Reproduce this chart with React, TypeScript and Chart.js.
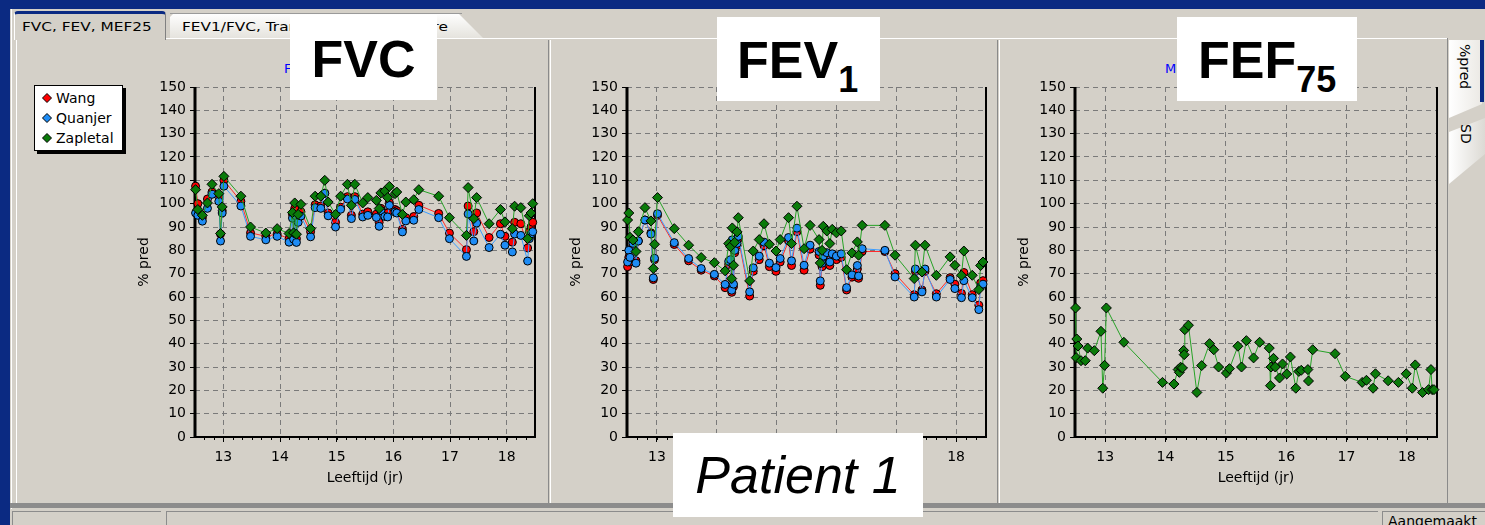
import React, { useEffect, useRef } from 'react';
import { Chart, registerables } from 'chart.js';

Chart.register(...registerables);

const FONT = '"DejaVu Sans", sans-serif';
const BG = '#d4d0c8';
const NAVY = '#0b2a82';

// ---------- data ----------
const xTicks = [13, 14, 15, 16, 17, 18];
const xMin = 12.5;
const xMax = 18.5;
const yMin = 0;
const yMax = 150;
const seriesNames = ['Wang', 'Quanjer', 'Zapletal'];

const fvcAges = [12.51, 12.55, 12.63, 12.72, 12.8, 12.92, 12.95, 12.98, 13.01, 13.31, 13.48, 13.75, 13.95, 14.16, 14.22, 14.24, 14.26, 14.29, 14.32, 14.37, 14.54, 14.62, 14.72, 14.79, 14.85, 14.98, 15.07, 15.19, 15.26, 15.32, 15.46, 15.55, 15.7, 15.75, 15.78, 15.85, 15.9, 15.93, 16.03, 16.06, 16.16, 16.22, 16.36, 16.45, 16.8, 16.99, 17.29, 17.32, 17.42, 17.47, 17.69, 17.89, 17.97, 18.1, 18.14, 18.25, 18.37, 18.4, 18.43, 18.46];
const fvcWang = [107.5, 100, 94, 102, 105, 103, 87, 97, 110, 101, 87.5, 86, 87, 85, 95.5, 86.5, 98, 85, 93.5, 96.5, 88, 99.5, 99, 104.5, 96, 92, 98.5, 103, 95, 103, 95.5, 96.5, 95.5, 92, 98, 96, 96, 100.5, 97.5, 97, 89, 94, 94.5, 99.3, 95.8, 87.4, 80.3, 99, 88, 96, 85.5, 91.4, 86, 83.5, 92, 91.4, 81, 88, 90, 92];
const fvcQuanjer = [96, 95, 92.5, 98, 104, 101, 84, 96, 107.5, 99, 86, 84.5, 86, 83.5, 93.8, 84.8, 95, 83.4, 92, 94.7, 85.8, 98.3, 98, 104.4, 94.8, 90, 97.6, 102, 93.6, 101.8, 94.3, 95, 94.1, 90.3, 97, 94.5, 94.3, 99.3, 96.4, 96, 87.9, 92.6, 92.9, 97.5, 94, 85, 77.4, 95.6, 84, 91.7, 81.2, 86.9, 82.2, 79.3, 87, 86.4, 75.4, 85, 87, 88];
const fvcZapletal = [106, 97.5, 95, 100.3, 108.3, 104.3, 87.2, 98.6, 111.7, 103.2, 90, 87.4, 89.3, 87.2, 96.2, 87.5, 100.3, 86.9, 95.4, 99.7, 89.3, 103.2, 103.2, 110, 100.7, 95.4, 103.2, 108.3, 99.3, 108.3, 100.3, 102.6, 101.4, 97.9, 104.6, 105.4, 102.6, 107.4, 104.3, 105, 95.4, 100.7, 101.7, 106, 103.2, 94, 86.4, 106.9, 93.6, 102.6, 91.4, 97.5, 92.2, 89.3, 98.9, 98.3, 85, 94.8, 96, 100];

const fev1Ages = [12.51, 12.53, 12.55, 12.6, 12.65, 12.69, 12.8, 12.9, 12.94, 12.96, 13.01, 13.29, 13.53, 13.74, 13.96, 14.14, 14.2, 14.23, 14.25, 14.26, 14.28, 14.3, 14.34, 14.36, 14.55, 14.61, 14.71, 14.79, 14.88, 14.99, 15.06, 15.2, 15.25, 15.34, 15.46, 15.56, 15.71, 15.73, 15.76, 15.78, 15.84, 15.89, 15.93, 16.0, 16.08, 16.17, 16.26, 16.35, 16.37, 16.43, 16.81, 16.98, 17.3, 17.32, 17.43, 17.48, 17.67, 17.9, 17.98, 18.09, 18.13, 18.27, 18.38, 18.41, 18.45];
const fev1Wang = [73, 77, 75, 82, 75.5, 84, 93, 87.5, 67.5, 76, 95, 82.5, 75.5, 71.5, 69, 64, 74, 75, 62, 83, 64.5, 79, 82, 85, 60.4, 71, 76, 82, 73, 71, 75, 84, 73.5, 88, 71.5, 80.5, 78, 65, 73, 75.5, 77, 73.5, 77, 76, 77, 63, 68.5, 72, 68, 79.5, 79.5, 70, 61, 71, 63, 71, 61.4, 68.3, 65.5, 61.5, 70.5, 61, 56.5, 66, 67];
const fev1Quanjer = [75, 80, 77, 83, 74.5, 84, 93, 87, 68.2, 76.6, 95.7, 83.3, 76.5, 72.2, 69.7, 65.4, 75.3, 76, 62.9, 84.5, 65.5, 80, 83, 86, 62.2, 72.5, 77.5, 83.5, 74.5, 72.6, 76.5, 85.5, 75.5, 89.5, 73.6, 82.2, 79.5, 66.9, 74.5, 77.5, 79, 75, 78.5, 77.5, 78.5, 64, 69.5, 73.5, 69, 80.7, 80, 68.6, 60, 72, 62.2, 72, 60, 67.5, 63.6, 59.7, 67, 59.7, 54.6, 64.5, 65.5];
const fev1Zapletal = [93, 96, 85.6, 84.4, 79.5, 88, 98.3, 92.6, 72.2, 82.6, 102.6, 89.3, 82.2, 76.9, 74.7, 71.2, 82.9, 81.6, 67.9, 89.6, 73.6, 83.4, 87.9, 94, 66.9, 79.7, 84.6, 91.4, 82.6, 79.7, 84.6, 94, 82.9, 98.9, 80.7, 90.7, 84.6, 74.6, 80, 90.3, 88.3, 82.9, 89, 87.5, 88.3, 71.7, 78.9, 83.6, 77.9, 90.7, 90.7, 77.9, 67.9, 82.2, 70.7, 82.2, 69.3, 77.2, 73.6, 69.3, 79.7, 69.3, 63.2, 73.5, 75];

const fef75Ages = [12.51, 12.52, 12.53, 12.55, 12.6, 12.67, 12.71, 12.82, 12.93, 12.96, 12.99, 13.02, 13.31, 13.95, 14.14, 14.21, 14.23, 14.25, 14.28, 14.3, 14.31, 14.32, 14.38, 14.52, 14.6, 14.73, 14.8, 14.88, 15.01, 15.06, 15.2, 15.26, 15.34, 15.46, 15.56, 15.72, 15.74, 15.75, 15.79, 15.82, 15.89, 15.94, 16.01, 16.07, 16.16, 16.21, 16.25, 16.36, 16.37, 16.44, 16.81, 16.98, 17.26, 17.33, 17.44, 17.48, 17.69, 17.86, 17.99, 18.09, 18.14, 18.26, 18.36, 18.4, 18.42, 18.45];
const fef75Zapletal = [55.3, 34, 42, 39, 32.7, 32.7, 38.1, 37, 45.3, 20.9, 30.7, 55.3, 40.6, 23.4, 22.7, 28.9, 27.7, 29.9, 29.6, 37.1, 35.3, 46, 47.9, 19.1, 30.6, 40, 37.4, 30, 27.4, 29.3, 38.9, 30, 41.3, 33.9, 40.6, 38.1, 22, 30, 33.7, 30, 25.3, 31.3, 27, 34.3, 20.9, 28.1, 28.6, 28.9, 24, 37.4, 35.7, 26, 23.4, 24.3, 20.9, 27.1, 24.1, 23.4, 27.1, 20.9, 30.9, 19.1, 20.3, 28.9, 20.3, 20.3];

// ---------- styles ----------
const STYLE: Record<string, { fill: string; line: string; shape: string; r: number; order: number }> = {
  Wang: { fill: '#ff0000', line: '#ff2a2a', shape: 'circle', r: 4, order: 3 },
  Quanjer: { fill: '#1e8cf5', line: '#3a9cff', shape: 'circle', r: 4, order: 2 },
  Zapletal: { fill: '#0a7a0a', line: '#26a226', shape: 'rectRot', r: 5, order: 1 },
};

function makeDataset(name: string, ages: number[], vals: number[]) {
  const s = STYLE[name];
  return {
    label: name,
    data: ages.map((a, i) => ({ x: a, y: vals[i] })),
    borderColor: s.line,
    borderWidth: 1,
    backgroundColor: s.fill,
    pointBackgroundColor: s.fill,
    pointBorderColor: '#000',
    pointBorderWidth: 1,
    pointRadius: s.r,
    pointStyle: s.shape,
    order: s.order,
    tension: 0,
    fill: false,
    clip: 8,
  };
}

const framePlugin = {
  id: 'frame',
  beforeDatasetsDraw(chart: any) {
    const { ctx, chartArea: a, scales } = chart;
    ctx.save();
    ctx.setLineDash([]);
    ctx.strokeStyle = '#000';
    ctx.lineWidth = 2;
    ctx.beginPath();
    ctx.moveTo(a.right, a.top);
    ctx.lineTo(a.right, a.bottom);
    ctx.lineTo(a.left, a.bottom);
    ctx.stroke();
    ctx.lineWidth = 3;
    ctx.beginPath();
    ctx.moveTo(a.left, a.top);
    ctx.lineTo(a.left, a.bottom + 1);
    ctx.stroke();
    ctx.lineWidth = 1;
    const sx = scales.x;
    ctx.beginPath();
    for (let k = 1; k < 36; k++) {
      const px = Math.round(sx.getPixelForValue(xMin + k / 6)) + 0.5;
      ctx.moveTo(px, a.bottom);
      ctx.lineTo(px, a.bottom + 3);
    }
    ctx.stroke();
    ctx.fillStyle = '#000';
    ctx.font = '14px ' + FONT;
    ctx.textAlign = 'center';
    ctx.textBaseline = 'middle';
    ctx.fillText('Leeftijd (jr)', (a.left + a.right) / 2, a.bottom + 41);
    ctx.translate(a.left - 51, (a.top + a.bottom) / 2);
    ctx.rotate(-Math.PI / 2);
    ctx.fillText('% pred', 0, 0);
    ctx.restore();
  },
};

function LineChart(props: { left: number; width: number; padRight: number; ages: number[]; series: { name: string; values: number[] }[] }) {
  const ref = useRef<HTMLCanvasElement>(null);
  useEffect(() => {
    const chart = new Chart(ref.current as HTMLCanvasElement, {
      type: 'line',
      data: { datasets: props.series.map((s) => makeDataset(s.name, props.ages, s.values)) as any },
      options: {
        animation: false,
        responsive: false,
        maintainAspectRatio: false,
        layout: { padding: { top: 17, right: props.padRight, left: 0, bottom: 0 } },
        plugins: { legend: { display: false }, tooltip: { enabled: false }, title: { display: false } },
        scales: {
          x: {
            type: 'linear',
            min: xMin,
            max: xMax,
            afterBuildTicks: (s: any) => {
              s.ticks = xTicks.map((v) => ({ value: v }));
            },
            afterFit: (s: any) => {
              s.height = 53;
            },
            ticks: { font: { family: FONT, size: 14 }, color: '#000', padding: 7, maxRotation: 0, autoSkip: false },
            grid: { color: '#7a7a7a', lineWidth: 1, tickLength: 5, tickColor: '#000', tickBorderDash: [] },
            border: { display: false, dash: [5, 4] },
          },
          y: {
            type: 'linear',
            min: yMin,
            max: yMax,
            afterFit: (s: any) => {
              s.width = 65;
            },
            ticks: { stepSize: 10, font: { family: FONT, size: 14 }, color: '#000', padding: 4 },
            grid: { color: '#7a7a7a', lineWidth: 1, tickLength: 5, tickColor: '#000', tickBorderDash: [] },
            border: { display: false, dash: [5, 4] },
          },
        },
      },
      plugins: [framePlugin],
    });
    return () => chart.destroy();
  }, []);
  return (
    <canvas
      ref={ref}
      width={props.width}
      height={420}
      style={{ position: 'absolute', left: props.left, top: 70, width: props.width, height: 420 }}
    />
  );
}

function Marker({ name }: { name: string }) {
  const s = STYLE[name];
  return (
    <svg width={10} height={10} style={{ position: 'absolute', left: 7, top: 4 }}>
      <polygon points="5,0.5 9.5,5 5,9.5 0.5,5" fill={s.fill} stroke="#000" strokeWidth={1} />
    </svg>
  );
}

function abs(left: number, top: number, width: number, height: number, extra: any = {}) {
  return { position: 'absolute' as const, left, top, width, height, ...extra };
}

const tabText = { display: 'inline-block', fontSize: 13, transform: 'scaleX(1.18)', transformOrigin: 'left top', whiteSpace: 'nowrap' as const, color: '#000', lineHeight: '20px' };
const bigText = { position: 'absolute' as const, fontFamily: '"Liberation Sans", Arial, sans-serif', fontWeight: 'bold' as const, fontSize: 52, lineHeight: '60px', color: '#000', whiteSpace: 'nowrap' as const };

export default function App() {
  return (
    <div style={{ position: 'fixed', left: 0, top: 0, width: 1485, height: 525, background: BG, overflow: 'hidden', fontFamily: FONT }}>
      {/* window frame */}
      <div style={abs(0, 0, 1485, 9, { background: NAVY })} />
      <div style={abs(0, 0, 10, 525, { background: NAVY })} />
      <div style={abs(11, 9, 1, 500, { background: '#ffffff' })} />

      {/* tabs */}
      <div
        style={abs(170, 13, 314, 26, {
          background: 'linear-gradient(#ffffff, #e4e2dc)',
          clipPath: 'polygon(4px 0, 288px 0, 314px 26px, 0 26px, 0 4px)',
        })}
      />
      <div style={abs(170, 13, 292, 1, { background: '#9a9a9a' })} />
      <div style={abs(182, 16, 300, 20)}>
        <span style={tabText}>FEV1/FVC, Transfer, Diffusie, Score</span>
      </div>
      <div style={abs(14, 11, 152, 29, { background: BG, borderLeft: '1px solid #fff', borderRight: '1px solid #808080', borderTop: '3px solid ' + NAVY, borderRadius: '4px 4px 0 0', boxSizing: 'border-box' })} />
      <div style={abs(22, 16, 150, 20)}>
        <span style={tabText}>FVC, FEV, MEF25</span>
      </div>
      <div style={abs(166, 38, 1282, 1, { background: '#ffffff' })} />

      {/* panels */}
      <div style={abs(16, 40, 1, 464, { background: '#ffffff' })} />
      <div style={abs(548, 40, 1, 464, { background: '#8a8a8a' })} />
      <div style={abs(550, 40, 1, 464, { background: '#ffffff' })} />
      <div style={abs(997, 40, 1, 464, { background: '#8a8a8a' })} />
      <div style={abs(999, 40, 1, 464, { background: '#ffffff' })} />
      <div style={abs(1447, 38, 1, 466, { background: '#8a8a8a' })} />

      {/* right side vertical tabs */}
      <div style={abs(1449, 40, 33, 78, { background: 'linear-gradient(90deg, #ffffff, #ebe9e4)', clipPath: 'polygon(0 0, 33px 0, 33px 64px, 0 78px)' })} />
      <div style={abs(1480, 40, 4, 62, { background: NAVY })} />
      <div style={abs(1455, 44, 20, 60, { writingMode: 'vertical-rl', fontSize: 14, color: '#000', lineHeight: '20px' })}>%pred</div>
      <div style={abs(1449, 118, 36, 66, { background: 'linear-gradient(90deg, #ffffff, #dcdad4)', clipPath: 'polygon(0 14px, 36px 0, 36px 36px, 0 66px)' })} />
      <div style={abs(1456, 124, 20, 40, { writingMode: 'vertical-rl', fontSize: 14, color: '#000', lineHeight: '20px' })}>SD</div>

      {/* bottom bars */}
      <div style={abs(10, 503, 1475, 5, { background: '#8c8c8c' })} />
      <div style={abs(12, 511, 149, 20, { borderTop: '1px solid #8c8c8c', borderLeft: '1px solid #8c8c8c', boxSizing: 'border-box' })} />
      <div style={abs(166, 511, 1212, 20, { borderTop: '1px solid #8c8c8c', borderLeft: '1px solid #8c8c8c', boxSizing: 'border-box' })} />
      <div style={abs(1382, 511, 110, 20, { borderTop: '1px solid #8c8c8c', borderLeft: '1px solid #8c8c8c', boxSizing: 'border-box' })} />
      <div style={abs(1388, 513, 100, 20, { fontSize: 14, color: '#000', whiteSpace: 'nowrap' })}>Aangemaakt</div>

      {/* blue chart titles (mostly hidden behind labels) */}
      <div style={abs(284, 61, 140, 16, { fontSize: 13, color: '#0000ff', whiteSpace: 'nowrap' })}>FVC (% voorspeld)</div>
      <div style={abs(760, 61, 100, 16, { fontSize: 13, color: '#0000ff', whiteSpace: 'nowrap' })}>FEV1</div>
      <div style={abs(1165, 61, 140, 16, { fontSize: 13, color: '#0000ff', whiteSpace: 'nowrap' })}>MEF25</div>

      {/* charts */}
      <LineChart
        left={130}
        width={420}
        padRight={15}
        ages={fvcAges}
        series={[
          { name: seriesNames[0], values: fvcWang },
          { name: seriesNames[1], values: fvcQuanjer },
          { name: seriesNames[2], values: fvcZapletal },
        ]}
      />
      <LineChart
        left={562}
        width={440}
        padRight={16}
        ages={fev1Ages}
        series={[
          { name: seriesNames[0], values: fev1Wang },
          { name: seriesNames[1], values: fev1Quanjer },
          { name: seriesNames[2], values: fev1Zapletal },
        ]}
      />
      <LineChart left={1010} width={440} padRight={13} ages={fef75Ages} series={[{ name: seriesNames[2], values: fef75Zapletal }]} />

      {/* legend */}
      <div style={abs(34, 85, 89, 66, { background: '#ffffff', border: '1px solid #000', boxShadow: '3px 3px 0 #000', boxSizing: 'border-box' })}>
        {seriesNames.map((n, i) => (
          <div key={n} style={{ position: 'absolute', left: 0, top: 3 + i * 20, height: 18, width: 88 }}>
            <Marker name={n} />
            <span style={{ position: 'absolute', left: 21, top: 0, fontSize: 14, lineHeight: '18px', color: '#000' }}>{n}</span>
          </div>
        ))}
      </div>

      {/* overlay labels */}
      <div style={abs(290, 15, 147, 85, { background: '#fff' })}>
        <span style={{ ...bigText, left: 0, width: 147, textAlign: 'center', top: 14 }}>FVC</span>
      </div>
      <div style={abs(717, 17, 163, 84, { background: '#fff' })}>
        <span style={{ ...bigText, left: 20, top: 13 }}>
          FEV<span style={{ fontSize: 36, position: 'relative', top: 14 }}>1</span>
        </span>
      </div>
      <div style={abs(1177, 17, 180, 84, { background: '#fff' })}>
        <span style={{ ...bigText, left: 21, top: 13 }}>
          FEF<span style={{ fontSize: 36, position: 'relative', top: 14 }}>75</span>
        </span>
      </div>
      <div style={abs(673, 433, 250, 84, { background: '#fff', display: 'flex', alignItems: 'center', justifyContent: 'center' })}>
        <span style={{ fontFamily: '"Liberation Sans", Arial, sans-serif', fontStyle: 'italic', fontSize: 52, lineHeight: '60px', color: '#000' }}>Patient 1</span>
      </div>
    </div>
  );
}
